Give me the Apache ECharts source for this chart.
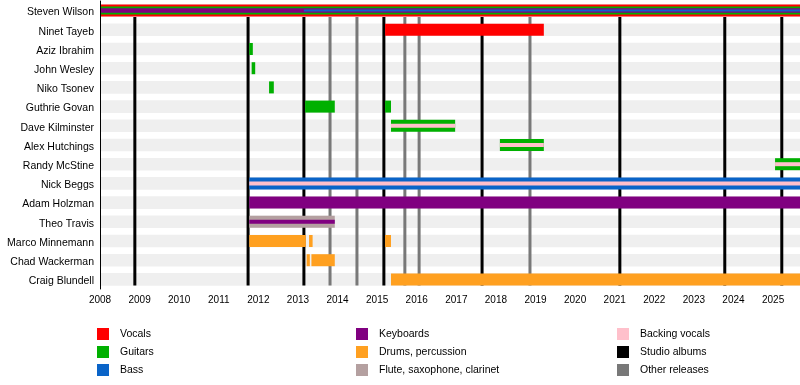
<!DOCTYPE html>
<html><head><meta charset="utf-8">
<script src="https://cdn.jsdelivr.net/npm/echarts@6/dist/echarts.min.js"></script>
<style>html,body{margin:0;padding:0;background:#fff}#c{width:800px;height:385px}</style>
</head><body><div id="c"></div>
<script>
// ---------- DATA ----------
const members = ['Steven Wilson','Ninet Tayeb','Aziz Ibrahim','John Wesley','Niko Tsonev','Guthrie Govan','Dave Kilminster','Alex Hutchings','Randy McStine','Nick Beggs','Adam Holzman','Theo Travis','Marco Minnemann','Chad Wackerman','Craig Blundell'];
const yearTicks = [2008,2009,2010,2011,2012,2013,2014,2015,2016,2017,2018,2019,2020,2021,2022,2023,2024,2025];
const timelineStart = 2008;
const timelineEnd = 2025.68;

// [member, from, till]
const vocals = [['Steven Wilson',2008,2025.68],['Ninet Tayeb',2015.2,2019.21]];
const guitars = [['Steven Wilson',2008,2025.68],['Aziz Ibrahim',2011.77,2011.86],['John Wesley',2011.83,2011.92],['Niko Tsonev',2012.27,2012.39],['Guthrie Govan',2013.18,2013.93],['Guthrie Govan',2015.2,2015.35],['Dave Kilminster',2015.35,2016.97],['Alex Hutchings',2018.1,2019.21],['Randy McStine',2025.05,2025.68]];
const bass = [['Steven Wilson',2013.15,2025.68],['Nick Beggs',2011.77,2025.68]];
const keyboards = [['Steven Wilson',2008,2025.68],['Adam Holzman',2011.77,2025.68],['Theo Travis',2011.77,2013.93]];
const drums = [['Marco Minnemann',2011.77,2013.2],['Marco Minnemann',2013.28,2013.37],['Marco Minnemann',2015.2,2015.35],['Chad Wackerman',2013.22,2013.3],['Chad Wackerman',2013.34,2013.93],['Craig Blundell',2015.35,2025.68]];
const flute = [['Theo Travis',2011.77,2013.93]];
const backingVocals = [['Nick Beggs',2011.77,2025.68],['Dave Kilminster',2015.35,2016.97],['Alex Hutchings',2018.1,2019.21],['Randy McStine',2025.05,2025.68]];
const studioAlbums = [2008.88,2011.74,2013.15,2015.17,2017.65,2021.13,2023.78,2025.22];
const otherReleases = [2013.81,2014.49,2015.70,2016.06,2018.86];

// ---------- STYLE ----------
const colors = {
  'Vocals':'#ff0000','Guitars':'#00b000','Bass':'#0a64c8','Keyboards':'#800080',
  'Drums, percussion':'#ffa020','Flute, saxophone, clarinet':'#b4a0a0','Backing vocals':'#ffc0cb',
  'Studio albums':'#000000','Other releases':'#787878'
};
const mainH = 12, stripeH = 4;
const special = { 'Steven Wilson|Guitars':8, 'Steven Wilson|Keyboards':4.5, 'Steven Wilson|Bass':2, 'Theo Travis|Keyboards':4 };
function thick(member, inst){
  const k = member + '|' + inst;
  if (special[k] != null) return special[k];
  if (inst === 'Backing vocals') return stripeH;
  return mainH;
}

function barSeries(name, arr){
  const color = colors[name];
  return {
    type:'custom', name, itemStyle:{color}, color,
    data: arr.map(d => [d[1], d[2], members.indexOf(d[0])]),
    encode:{x:[0,1], y:2},
    renderItem(params, api){
      const row = api.value(2);
      const s = api.coord([api.value(0), row]);
      const e = api.coord([api.value(1), row]);
      const h = thick(members[row], name);
      return {type:'rect', z2:100-h, shape:{x:s[0], y:s[1]-h/2, width:e[0]-s[0], height:h}, style:{fill:color}};
    }
  };
}
function lineSeries(name, arr){
  const color = colors[name];
  return {
    type:'custom', name, itemStyle:{color}, color,
    data: arr.map(v => [v]),
    encode:{x:0},
    renderItem(params, api){
      const top = api.coord([api.value(0), 0]);
      const bot = api.coord([api.value(0), members.length-1]);
      return {type:'rect', z2:10, shape:{x:top[0]-1.5, y:top[1]+6.5, width:3, height:bot[1]+6 - (top[1]+6.5)}, style:{fill:color}};
    }
  };
}
const bandSeries = {
  type:'custom', name:'bands', silent:true,
  data: members.map((m,i)=>[i]),
  encode:{y:0},
  renderItem(params, api){
    const row = api.value(0);
    const s = api.coord([timelineStart, row]);
    const e = api.coord([timelineEnd, row]);
    return {type:'rect', z2:0, shape:{x:s[0]+1, y:s[1]-6.3, width:e[0]-s[0]-1, height:12.6}, style:{fill:'#efefef'}};
  }
};

const legendCommon = {orient:'vertical', icon:'rect', itemWidth:12, itemHeight:12, itemGap:6, selectedMode:false, padding:0,
  height:60, textStyle:{fontSize:10.5, color:'#000', fontFamily:'Liberation Sans', padding:[0,0,0,6]}};

const option = {
  animation:false,
  textStyle:{fontFamily:'Liberation Sans'},
  grid:{left:100, right:0, top:1, height:288, containLabel:false},
  xAxis:{type:'value', min:timelineStart, max:timelineEnd, interval:1, offset:-4, z:10,
    axisLine:{lineStyle:{color:'#000', width:1}},
    axisTick:{length:4, lineStyle:{color:'#000'}},
    splitLine:{show:false},
    axisLabel:{fontSize:10, color:'#000', margin:10, fontFamily:'Liberation Sans', showMaxLabel:false,
      formatter:v => yearTicks.includes(v) ? String(v) : ''}},
  yAxis:{type:'category', data:members, inverse:true, z:10,
    axisLine:{lineStyle:{color:'#000', width:1}},
    axisTick:{show:false}, splitLine:{show:false},
    axisLabel:{color:'#000', margin:6, formatter:v => '{a|' + v + '}',
      rich:{a:{fontSize:10.5, color:'#000', fontFamily:'Liberation Sans', padding:[4,0,0,0]}}}},
  legend:[
    Object.assign({left:97, top:328, data:['Vocals','Guitars','Bass']}, legendCommon),
    Object.assign({left:356, top:328, data:['Keyboards','Drums, percussion','Flute, saxophone, clarinet']}, legendCommon),
    Object.assign({left:617, top:328, data:['Backing vocals','Studio albums','Other releases']}, legendCommon)
  ],
  series:[
    bandSeries,
    lineSeries('Studio albums', studioAlbums),
    lineSeries('Other releases', otherReleases),
    barSeries('Vocals', vocals),
    barSeries('Guitars', guitars),
    barSeries('Bass', bass),
    barSeries('Keyboards', keyboards),
    barSeries('Drums, percussion', drums),
    barSeries('Flute, saxophone, clarinet', flute),
    barSeries('Backing vocals', backingVocals)
  ]
};
const chart = echarts.init(document.getElementById('c'), null, {renderer:'canvas'});
chart.setOption(option);
</script>
</body></html>
